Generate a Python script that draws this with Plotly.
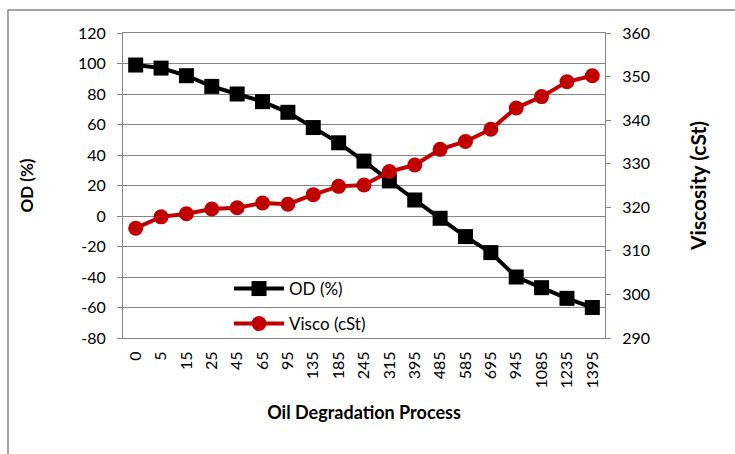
import plotly.graph_objects as go

# Sampling points of the oil degradation process (category axis)
process_steps = ["0", "5", "15", "25", "45", "65", "95", "135", "185", "245",
                 "315", "395", "485", "585", "695", "945", "1085", "1235", "1395"]

# Oil degradation (%) - left axis
od_pct = [99, 97, 92, 85, 80, 75, 68, 58, 48, 36,
          23, 10.5, -1.5, -13.5, -24, -40, -47, -54, -60]

# Viscosity (cSt) - right axis
visco_cst = [315.2, 317.8, 318.5, 319.6, 319.9, 321.0, 320.7, 322.9, 324.8, 325.1,
             328.2, 329.7, 333.3, 335.1, 337.9, 342.8, 345.4, 348.8, 350.2]

left_ticks = list(range(-80, 121, 20))
right_ticks = list(range(290, 361, 10))

FONT = "Lato, Carlito, Calibri, sans-serif"
GRAY = "#868686"

fig = go.Figure()

fig.add_trace(go.Scatter(
    x=process_steps, y=od_pct, name="OD (%)", mode="lines+markers",
    line=dict(color="#000000", width=4),
    marker=dict(symbol="square", size=15, color="#000000"),
    yaxis="y", legend="legend",
))

fig.add_trace(go.Scatter(
    x=process_steps, y=visco_cst, name="Visco (cSt)", mode="lines+markers",
    line=dict(color="#C00000", width=4),
    marker=dict(symbol="circle", size=15, color="#C00000"),
    yaxis="y2", legend="legend2",
))

W, H = 735, 454
ML, MR, MT, MB = 123, 130, 33, 116
PW, PH = W - ML - MR, H - MT - MB


def px_x(px):
    return (px - ML) / PW


def px_y(py):
    return (H - MB - py) / PH


legend_common = dict(
    xanchor="left", yanchor="middle", bgcolor="rgba(0,0,0,0)",
    font=dict(family=FONT, size=17, color="#000000"),
    borderwidth=0, itemwidth=50,
)

fig.update_layout(
    width=W, height=H,
    margin=dict(l=ML, r=MR, t=MT, b=MB, autoexpand=False),
    paper_bgcolor="white", plot_bgcolor="white",
    font=dict(family=FONT, size=16, color="#000000"),
    showlegend=True,
    legend=dict(x=px_x(229), y=px_y(289), **legend_common),
    legend2=dict(x=px_x(229), y=px_y(324), **legend_common),
    xaxis=dict(
        type="category", categoryarray=process_steps, range=[-0.5, len(process_steps) - 0.5],
        tickangle=-90, ticks="", showgrid=False, ticklabelstandoff=6,
        showline=True, linecolor=GRAY, linewidth=1, mirror=True,
        tickfont=dict(family=FONT, size=16, color="#000000"),
        title=dict(text="<b>Oil Degradation Process</b>",
                   font=dict(family=FONT, size=18, color="#000000"), standoff=18),
        automargin=False,
    ),
    yaxis=dict(
        range=[-80, 120], tickvals=left_ticks, ticktext=[str(v) for v in left_ticks],
        showgrid=True, gridcolor=GRAY, gridwidth=1, zeroline=False,
        showline=True, linecolor=GRAY, linewidth=1,
        ticks="outside", ticklen=5, tickcolor=GRAY, ticklabelstandoff=8,
        tickfont=dict(family=FONT, size=16, color="#000000"),
        title=dict(text="<b>OD (%)</b>",
                   font=dict(family=FONT, size=17, color="#000000"), standoff=40),
        automargin=False,
    ),
    yaxis2=dict(
        range=[290, 360], tickvals=right_ticks, ticktext=[str(v) for v in right_ticks],
        overlaying="y", side="right", showgrid=False, zeroline=False,
        showline=True, linecolor=GRAY, linewidth=1,
        ticks="outside", ticklen=5, tickcolor=GRAY, ticklabelstandoff=8,
        tickfont=dict(family=FONT, size=16, color="#000000"),
        title=dict(text="<b>Viscosity (cSt)</b>",
                   font=dict(family=FONT, size=21, color="#000000"), standoff=42),
        automargin=False,
    ),
    shapes=[
        # chart area frame
        dict(type="rect", xref="paper", yref="paper",
             x0=px_x(8), x1=px_x(745), y0=px_y(470), y1=px_y(10),
             line=dict(color=GRAY, width=1.5), fillcolor="rgba(0,0,0,0)",
             layer="below"),
    ],
)

fig.write_html("out.html")
